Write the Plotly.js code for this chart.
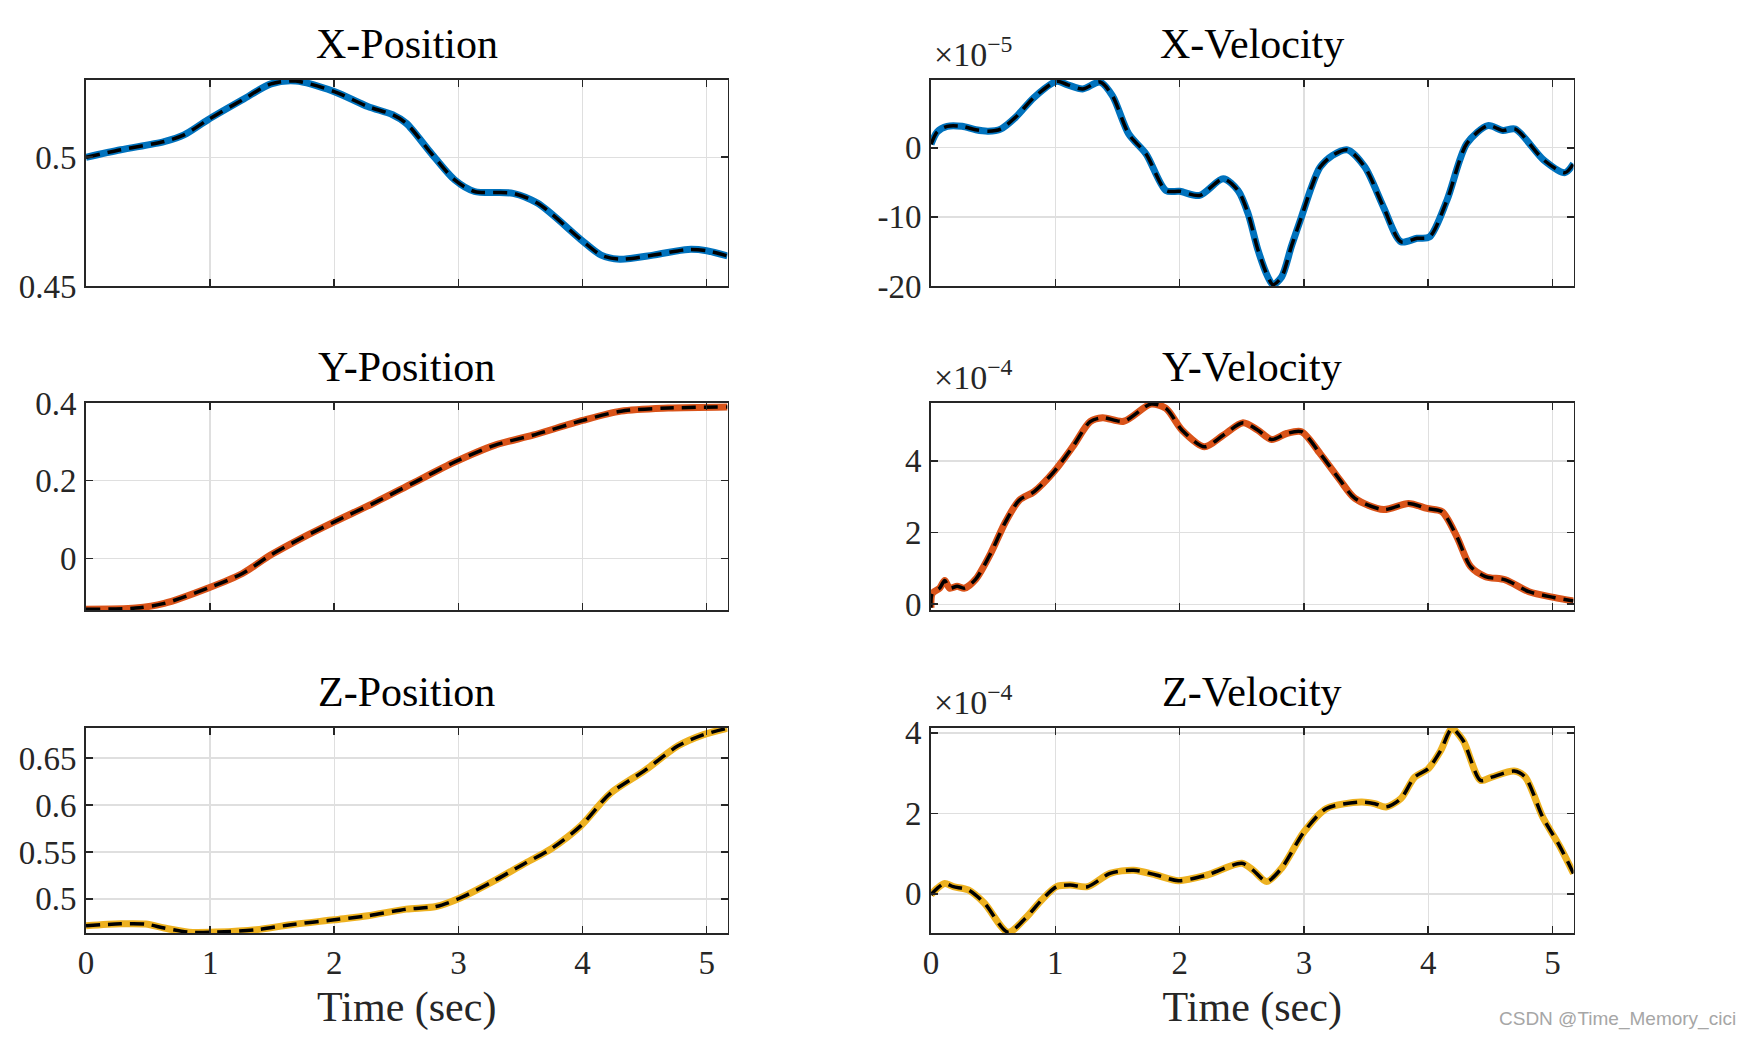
<!DOCTYPE html>
<html>
<head>
<meta charset="utf-8">
<script src="https://cdn.plot.ly/plotly-3.0.1.min.js"></script>
<style>html,body{margin:0;padding:0;background:#fff;}#chart{width:1752px;height:1039px;}</style>
</head>
<body>
<div id="chart"></div>
<script>
// ---------------- data ----------------
const xPosT = [0, 0.28, 0.63, 0.79, 0.98, 1.26, 1.49, 1.69, 2.0, 2.27, 2.47, 2.58, 2.78, 2.97, 3.13, 3.44, 3.64, 3.99, 4.15, 4.3, 4.57, 4.85, 5.0, 5.168];
const xPos  = [0.5, 0.5029, 0.5061, 0.5087, 0.5145, 0.5223, 0.5285, 0.5296, 0.5255, 0.5197, 0.5165, 0.5132, 0.5016, 0.4912, 0.4867, 0.486, 0.4821, 0.4679, 0.462, 0.4604, 0.462, 0.4642, 0.4637, 0.4617];

const xVelT = [0, 0.05, 0.13, 0.25, 0.36, 0.46, 0.56, 0.68, 0.83, 1.01, 1.1, 1.22, 1.36, 1.46, 1.59, 1.73, 1.89, 2.0, 2.16, 2.35, 2.47, 2.55, 2.63, 2.71, 2.75, 2.82, 2.9, 2.98, 3.06, 3.13, 3.23, 3.35, 3.49, 3.64, 3.78, 3.91, 4.01, 4.15, 4.31, 4.48, 4.6, 4.7, 4.93, 5.1, 5.168];
const xVel  = [0.5, 2.3, 3.1, 3.1, 2.6, 2.4, 2.7, 4.4, 7.3, 9.6, 9.1, 8.5, 9.5, 7.5, 2.0, -0.9, -6.2, -6.3, -6.9, -4.5, -6.2, -9.5, -14.8, -18.7, -19.8, -18.7, -14.2, -10.0, -5.7, -2.8, -1.1, -0.3, -2.8, -8.6, -13.6, -13.1, -12.9, -7.6, 0.6, 3.2, 2.5, 2.7, -1.8, -3.6, -2.3];

const yPosT = [0, 0.4, 0.63, 0.98, 1.26, 1.49, 1.73, 2.0, 2.31, 2.63, 2.97, 3.29, 3.6, 4.0, 4.31, 4.69, 5.168];
const yPos  = [-0.131, -0.128, -0.116, -0.077, -0.039, 0.009, 0.051, 0.094, 0.141, 0.193, 0.248, 0.291, 0.317, 0.355, 0.379, 0.387, 0.390];

const yVelT = [0, 0.01, 0.07, 0.11, 0.15, 0.21, 0.27, 0.36, 0.48, 0.6, 0.71, 0.83, 0.99, 1.14, 1.28, 1.38, 1.55, 1.77, 1.89, 2.02, 2.2, 2.35, 2.51, 2.63, 2.74, 2.86, 2.98, 3.13, 3.29, 3.41, 3.64, 3.84, 3.99, 4.11, 4.23, 4.34, 4.46, 4.62, 4.81, 5.01, 5.168];
const yVel  = [-0.1, 0.3, 0.45, 0.66, 0.45, 0.5, 0.45, 0.7, 1.42, 2.3, 2.9, 3.14, 3.7, 4.39, 5.09, 5.2, 5.1, 5.58, 5.46, 4.85, 4.39, 4.71, 5.06, 4.85, 4.59, 4.76, 4.81, 4.2, 3.46, 2.95, 2.64, 2.81, 2.67, 2.58, 1.88, 1.05, 0.77, 0.68, 0.35, 0.19, 0.09];

const zPosT = [0, 0.28, 0.48, 0.63, 0.83, 1.06, 1.37, 1.65, 2.0, 2.27, 2.58, 2.82, 3.01, 3.29, 3.52, 3.75, 3.99, 4.22, 4.5, 4.77, 4.97, 5.168];
const zPos  = [0.4714, 0.4735, 0.4732, 0.469, 0.4645, 0.4647, 0.4672, 0.4725, 0.4778, 0.482, 0.4891, 0.4919, 0.5007, 0.5194, 0.5367, 0.5536, 0.5783, 0.6119, 0.6366, 0.663, 0.6747, 0.6817];

const zVelT = [0, 0.05, 0.11, 0.18, 0.3, 0.43, 0.62, 0.76, 0.89, 1.01, 1.12, 1.26, 1.44, 1.63, 1.81, 1.99, 2.22, 2.5, 2.59, 2.7, 2.82, 3.0, 3.18, 3.46, 3.57, 3.66, 3.78, 3.89, 4.0, 4.1, 4.19, 4.28, 4.42, 4.51, 4.69, 4.78, 4.92, 5.06, 5.168];
const zVel  = [-0.02, 0.14, 0.26, 0.18, 0.1, -0.23, -0.95, -0.6, -0.15, 0.18, 0.22, 0.18, 0.51, 0.59, 0.47, 0.33, 0.47, 0.76, 0.59, 0.31, 0.64, 1.54, 2.12, 2.28, 2.24, 2.16, 2.37, 2.9, 3.11, 3.56, 4.1, 3.81, 2.82, 2.9, 3.05, 2.9, 1.91, 1.17, 0.51];

const titles = ['X-Position', 'X-Velocity', 'Y-Position', 'Y-Velocity', 'Z-Position', 'Z-Velocity'];
const exponents = ['', '\u00d710<sup>\u22125</sup>', '', '\u00d710<sup>\u22124</sup>', '', '\u00d710<sup>\u22124</sup>'];
const xTickVals = [0, 1, 2, 3, 4, 5];
const xTickText = ['0', '1', '2', '3', '4', '5'];
const yTickVals = [[0.45, 0.5], [-20, -10, 0], [0, 0.2, 0.4], [0, 2, 4], [0.5, 0.55, 0.6, 0.65], [0, 2, 4]];
const yTickText = [['0.45', '0.5'], ['-20', '-10', '0'], ['0', '0.2', '0.4'], ['0', '2', '4'], ['0.5', '0.55', '0.6', '0.65'], ['0', '2', '4']];
const xLabel = 'Time (sec)';
const watermark = 'CSDN @Time_Memory_cici';

// ---------------- styling / layout ----------------
const W = 1752, H = 1039;
const px = v => v / W;
const py = v => 1 - v / H;
const colDom = [[86, 727.5], [931, 1573.5]];
const rowDom = [[80, 286], [403, 610], [728, 933]];
const yRanges = [[0.45, 0.5300], [-20, 9.8], [-0.133, 0.4], [-0.16, 5.61], [0.4637, 0.682], [-0.97, 4.12]];
const xRange = [0, 5.168];
const lineColors = ['#0072BD', '#0072BD', '#D95319', '#D95319', '#EDB120', '#EDB120'];
const seriesT = [xPosT, xVelT, yPosT, yVelT, zPosT, zVelT];
const seriesV = [xPos, xVel, yPos, yVel, zPos, zVel];

const serif = 'Liberation Serif, Times New Roman, serif';
const axCol = '#262626';
const gridCol = '#dfdfdf';

const traces = [];
const layout = {
  width: W, height: H,
  margin: {l: 0, r: 0, t: 0, b: 0},
  paper_bgcolor: '#ffffff', plot_bgcolor: '#ffffff',
  showlegend: false,
  font: {family: serif, color: axCol},
  annotations: []
};

for (let i = 0; i < 6; i++) {
  const col = i % 2, row = Math.floor(i / 2);
  const n = i + 1;
  const xa = 'x' + (n === 1 ? '' : n), ya = 'y' + (n === 1 ? '' : n);
  const xk = 'xaxis' + (n === 1 ? '' : n), yk = 'yaxis' + (n === 1 ? '' : n);
  traces.push({x: seriesT[i], y: seriesV[i], xaxis: xa, yaxis: ya, type: 'scatter', mode: 'lines',
    line: {color: lineColors[i], width: 7, shape: 'spline', smoothing: 0.8}, hoverinfo: 'skip'});
  traces.push({x: seriesT[i], y: seriesV[i], xaxis: xa, yaxis: ya, type: 'scatter', mode: 'lines',
    line: {color: '#000000', width: 3.5, dash: '14px,8px', shape: 'spline', smoothing: 0.8}, hoverinfo: 'skip'});
  const isBottom = row === 2;
  layout[xk] = {
    domain: [px(colDom[col][0]), px(colDom[col][1])],
    anchor: ya, range: xRange, fixedrange: true,
    tickmode: 'array', tickvals: xTickVals, ticktext: xTickText,
    showticklabels: isBottom,
    ticks: 'inside', ticklen: 7, tickwidth: 1.6, tickcolor: axCol,
    showline: true, linecolor: axCol, linewidth: 1.8, mirror: 'ticks',
    showgrid: true, gridcolor: gridCol, gridwidth: 1.5, zeroline: false,
    tickfont: {family: serif, size: 33, color: axCol},
    ticklabelstandoff: 0,
    automargin: false
  };
  if (isBottom) {
    layout[xk].title = {text: xLabel, font: {family: serif, size: 42, color: axCol}, standoff: 11};
  }
  layout[yk] = {
    domain: [py(rowDom[row][1]), py(rowDom[row][0])],
    anchor: xa, range: yRanges[i], fixedrange: true,
    tickmode: 'array', tickvals: yTickVals[i], ticktext: yTickText[i],
    ticks: 'inside', ticklen: 7, tickwidth: 1.6, tickcolor: axCol,
    showline: true, linecolor: axCol, linewidth: 1.8, mirror: 'ticks',
    showgrid: true, gridcolor: gridCol, gridwidth: 1.5, zeroline: false,
    tickfont: {family: serif, size: 33, color: axCol},
    ticklabelstandoff: 1,
    automargin: false
  };
  // subplot title
  layout.annotations.push({
    text: titles[i], xref: 'paper', yref: 'paper',
    x: px((colDom[col][0] + colDom[col][1]) / 2), y: py(rowDom[row][0] - 11),
    xanchor: 'center', yanchor: 'bottom', showarrow: false,
    font: {family: serif, size: 42, color: '#000000'}
  });
  if (exponents[i]) {
    layout.annotations.push({
      text: exponents[i], xref: 'paper', yref: 'paper',
      x: px(colDom[col][0] + 1), y: py(rowDom[row][0] - 5),
      xanchor: 'left', yanchor: 'bottom', showarrow: false,
      font: {family: serif, size: 34, color: axCol}
    });
  }
}

layout.annotations.push({
  text: watermark, xref: 'paper', yref: 'paper',
  x: px(1738), y: py(1019), xanchor: 'right', yanchor: 'middle', showarrow: false,
  font: {family: 'Liberation Sans, Arial, sans-serif', size: 19, color: '#a6a6a6'}
});

Plotly.newPlot('chart', traces, layout, {staticPlot: true, displayModeBar: false});
</script>
</body>
</html>
